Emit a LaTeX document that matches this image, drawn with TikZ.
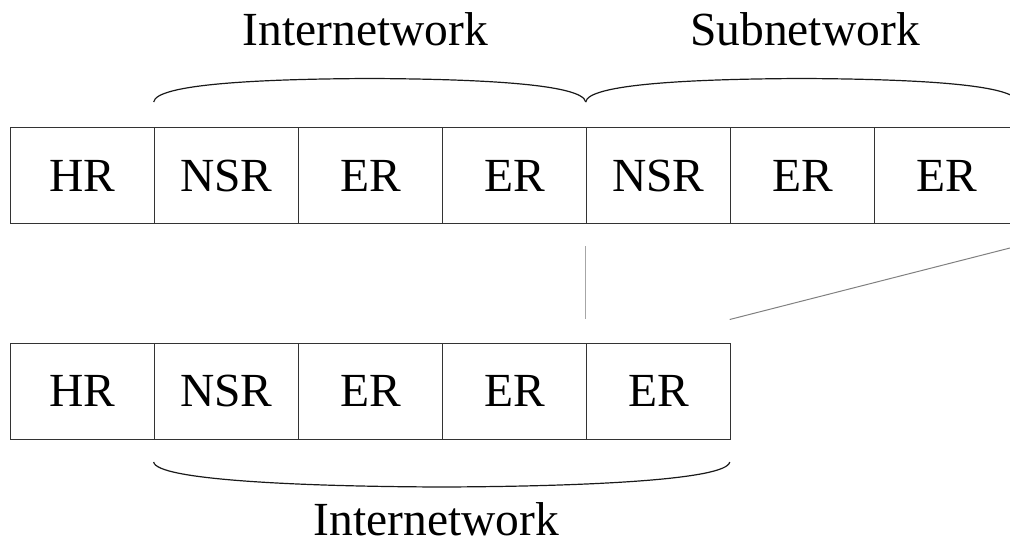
\documentclass[tikz,border=0pt]{standalone}
\usepackage{fontspec}
\setmainfont{Liberation Serif}
\begin{document}
\begin{tikzpicture}[x=1pt,y=-1pt,
  cell/.style={draw=black!80, line width=1.3pt, minimum width=144pt, minimum height=96pt,
    inner sep=0pt, anchor=north west, font=\fontsize{47.5}{57}\selectfont},
  lbl/.style={anchor=base, inner sep=0pt, font=\fontsize{47.5}{57}\selectfont},
  brace/.style={draw=black!90, line width=1.2pt},
  guide/.style={line width=1pt}]
\useasboundingbox (0,0) rectangle (1010,549);
% top row
\node[cell] (t1) at (9.7,127) {HR};
\node[cell] (t2) at (153.7,127) {NSR};
\node[cell] (t3) at (297.7,127) {ER};
\node[cell] (t4) at (441.7,127) {ER};
\node[cell] (t5) at (585.7,127) {NSR};
\node[cell] (t6) at (729.7,127) {ER};
\node[cell] (t7) at (873.7,127) {ER};
% bottom row
\node[cell] (b1) at (9.7,342.7) {HR};
\node[cell] (b2) at (153.7,342.7) {NSR};
\node[cell] (b3) at (297.7,342.7) {ER};
\node[cell] (b4) at (441.7,342.7) {ER};
\node[cell] (b5) at (585.7,342.7) {ER};
% labels
\node[lbl] (l1) at (365.5,45) {Internetwork};
\node[lbl] (l2) at (805,45) {Subnetwork};
\node[lbl] (l3) at (436.5,535) {Internetwork};
% braces
\path[brace] (153.7,102) .. controls (156,84) and (260,79) .. (369.7,78.5)
  .. controls (479,79) and (583,84) .. (585.7,102);
\path[brace] (585.7,102) .. controls (588,84) and (692,79) .. (801.7,78.5)
  .. controls (911,79) and (1015,84) .. (1017.7,102);
\path[brace] (153.7,462) .. controls (156,480) and (300,486.5) .. (441.7,487)
  .. controls (584,486.5) and (727,480) .. (729.7,462);
% guides
\coordinate (g1) at (585.7,246);
\coordinate (g2) at (585.7,319);
\coordinate (g3) at (1010,248);
\coordinate (g4) at (729.7,319.5);
\draw[guide, draw=black!35] (g1) -- (g2);
\draw[guide, draw=black!50] (g3) -- (g4);
\end{tikzpicture}
\end{document}
